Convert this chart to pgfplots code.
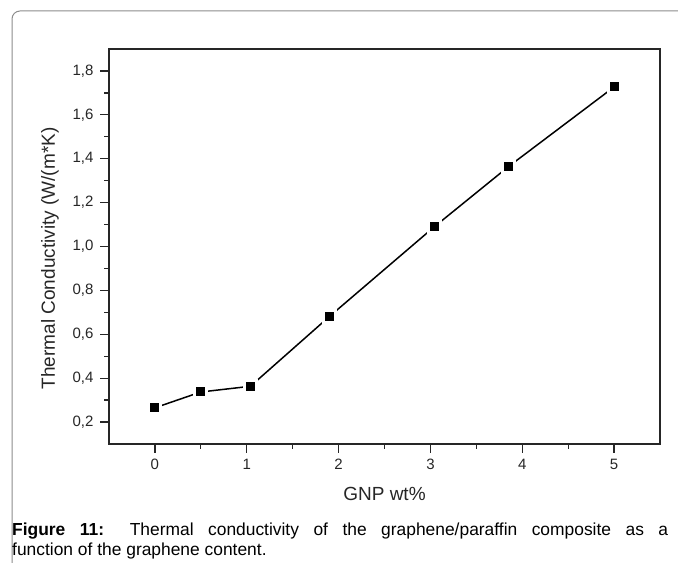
\documentclass[border=0pt]{standalone}
\usepackage{fontspec}
\setmainfont{Liberation Sans}
\usepackage{pgfplots}
\pgfplotsset{compat=1.18}
\pgfplotstableread{
x y
0 0.265
0.5 0.337
1.04 0.363
1.9 0.681
3.04 1.089
3.85 1.364
5 1.727
}\gnpdata
\begin{document}
\begin{tikzpicture}[x=1bp,y=1bp]
\draw[black!45, line width=1bp, rounded corners=8bp] (12,-20) -- (12,552) -- (720,552);
\begin{axis}[
  at={(109bp,119bp)}, anchor=south west,
  scale only axis, width=551bp, height=395bp,
  xmin=-0.5, xmax=5.5, ymin=0.1, ymax=1.9,
  xtick={0,1,2,3,4,5}, minor x tick num=1,
  ytick={0.2,0.4,0.6,0.8,1.0,1.2,1.4,1.6,1.8}, minor y tick num=1,
  tick pos=left, tick align=outside,
  major tick length=9bp, minor tick length=5bp,
  axis line style={black!85, line width=1.3bp},
  every tick/.style={black!85, line width=1.3bp},
  /pgf/number format/assume math mode=true,
  yticklabel style={xshift=-3bp, /pgf/number format/.cd, use comma, fixed, fixed zerofill, precision=1},
  xticklabel style={yshift=-3bp, /pgf/number format/.cd, fixed, precision=0},
  ticklabel style={font=\fontsize{15bp}{17bp}\selectfont, text=black!85},
  xlabel={GNP wt\%}, ylabel={Thermal Conductivity (W/(m*K)},
  xlabel style={at={(axis description cs:0.5,-0.142)}, anchor=base, font=\fontsize{19bp}{22bp}\selectfont, text=black!85},
  ylabel style={at={(axis description cs:-0.107,0.47)}, anchor=center, font=\fontsize{19bp}{22bp}\selectfont, text=black!85},
  clip=false,
]
\addplot[black, line width=1.5bp] table[x=x,y=y] {\gnpdata};
\addplot[only marks, mark=square*, mark size=6bp, mark options={draw=white, fill=black, line width=3bp}] table[x=x,y=y] {\gnpdata};
\end{axis}
\node[anchor=base west, inner sep=0pt] at (12,27) {\parbox[t]{656bp}{\fontsize{17.4bp}{20bp}\selectfont\hyphenpenalty=10000 \textbf{Figure 11:} Thermal conductivity of the graphene/paraffin composite as a\linebreak function of the graphene content.}};
\pgfresetboundingbox
\path[use as bounding box] (0,0) rectangle (678,563);
\end{tikzpicture}
\end{document}
